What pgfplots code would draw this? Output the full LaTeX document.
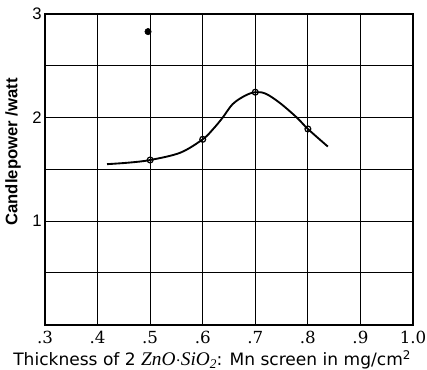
\documentclass[border=0pt]{standalone}
\usepackage{fontspec}
\setmainfont{Liberation Sans}
\newfontfamily\labfont{DejaVu Sans}
\newfontfamily\tickfont{DejaVu Serif}
\newfontfamily\formfont{Liberation Serif}
\usepackage{pgfplots}
\pgfplotsset{compat=1.18}
\begin{document}
\begin{tikzpicture}
\begin{axis}[
  scale only axis,
  width=276pt, height=233pt,
  xmin=0.3, xmax=1.0, ymin=0, ymax=3,
  xtick={0.3,0.4,...,1.0},
  xticklabels={.3,.4,.5,.6,.7,.8,.9,1.0},
  ytick={0,0.5,1,1.5,2,2.5,3},
  yticklabels={,,1,,2,,3},
  grid=both,
  major grid style={black, line width=0.9pt},
  axis line style={black, line width=1.4pt},
  tick style={draw=none},
  xticklabel style={font=\tickfont\fontsize{12.5}{14}\selectfont, yshift=-1.5pt},
  yticklabel style={font=\fontsize{12.5}{14}\selectfont, xshift=1pt},
  ylabel={\bfseries\fontsize{12.5}{14}\selectfont Candlepower /watt},
  ylabel style={at={(rel axis cs:0,0.556)}, anchor=center, yshift=24pt},
  xlabel={\labfont\fontsize{12.8}{15}\selectfont Thickness of 2 {\formfont\itshape\fontsize{14.5}{15}\selectfont ZnO$\cdot$SiO\raisebox{-0.3ex}{\fontsize{10}{10}\selectfont 2}}: Mn screen in mg/cm\textsuperscript{2}},
  xlabel style={at={(rel axis cs:0,0)}, anchor=base west, inner sep=0pt, xshift=-24pt, yshift=-30.5pt},
  clip=false,
]
\coordinate (sw) at (rel axis cs:0,0);
\coordinate (ne) at (rel axis cs:1,1);
\addplot[black, line width=1.4pt, smooth, tension=0.55] coordinates {
(0.418,1.55) (0.46,1.565) (0.5,1.59) (0.557,1.66) (0.6,1.79) (0.62,1.89) (0.638,2.0) (0.657,2.13) (0.68,2.21) (0.7,2.245) (0.72,2.23) (0.747,2.14) (0.779,2.0) (0.8,1.89) (0.838,1.72)
};
\addplot[only marks, mark=o, mark size=2.2pt, mark options={line width=0.9pt, fill=white}, black] coordinates {
(0.5,1.59) (0.6,1.79) (0.7,2.245) (0.8,1.89)
};
\addplot[only marks, mark=*, mark size=2.4pt, black] coordinates {(0.496,2.83)};
\end{axis}
\pgfresetboundingbox
\path (sw) ++(-33.75pt,-33.75pt) coordinate (bl);
\path (ne) ++(10.5pt,10.5pt) coordinate (tr);
\useasboundingbox (bl) rectangle (tr);
\end{tikzpicture}
\end{document}
